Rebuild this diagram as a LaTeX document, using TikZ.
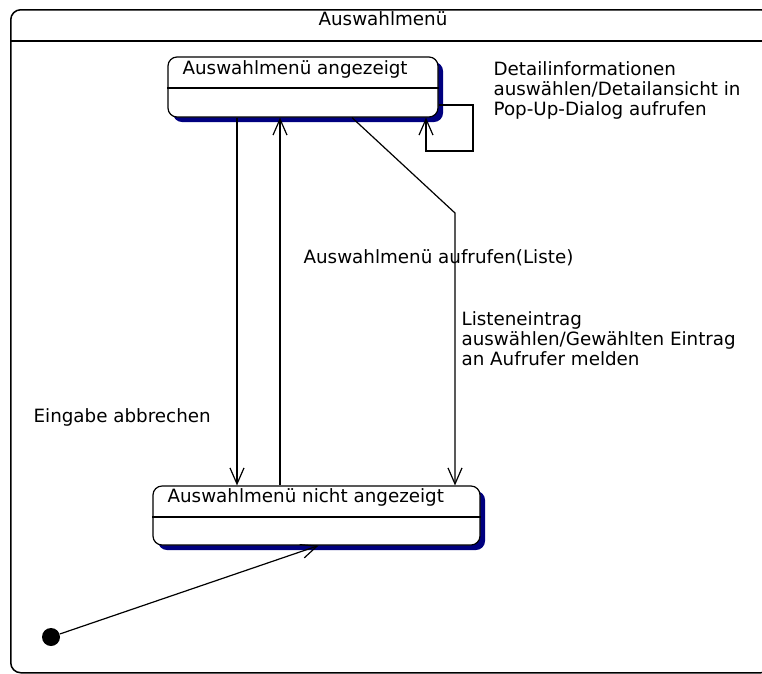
\documentclass[tikz,border=0pt]{standalone}
\usepackage{fontspec}
\setmainfont{DejaVu Sans}
\usetikzlibrary{arrows.meta,shadows}
\definecolor{ShadowNavy}{HTML}{00007F}

\begin{document}
\begin{tikzpicture}[
    x=1pt, y=-1pt,
    font=\fontsize{18.3}{20}\selectfont,
    line width=1.2pt,
    statebox/.style={draw,rounded corners=9pt,fill=white,inner sep=0pt,
      drop shadow={shadow xshift=5pt,shadow yshift=-5pt,fill=ShadowNavy,opacity=1}},
    lbl/.style={inner sep=0pt,align=left},
    trans/.style={-{Straight Barb[length=16pt,width=14pt]}},
    startdot/.style={circle,fill=black,inner sep=0pt,minimum size=18pt}
  ]
  \useasboundingbox (0,0) rectangle (762,673);

  % composite state with its title bar
  \node[draw,rounded corners=10pt,line width=1.5pt,inner sep=0pt,
    minimum width=760pt,minimum height=663pt,anchor=north west] (menu) at (10,9) {};
  \coordinate (headsep) at (0,41);
  \draw[line width=1.5pt] (menu.west |- headsep) -- (menu.east |- headsep);
  \node[anchor=base,inner sep=0pt] (menutitle) at (383,25) {Auswahlmenü};

  % the two states
  \node[statebox,minimum width=270pt,minimum height=60pt] (shown) at (303,87) {};
  \draw ([yshift=-1pt]shown.west) -- ([yshift=-1pt]shown.east);
  \node[lbl,anchor=base west] (shownname) at (182,74) {Auswahlmenü angezeigt};

  \node[statebox,minimum width=327pt,minimum height=59pt] (hidden) at (316.5,515.5) {};
  \draw ([yshift=-1.5pt]hidden.west) -- ([yshift=-1.5pt]hidden.east);
  \node[lbl,anchor=base west] (hiddenname) at (167,502) {Auswahlmenü nicht angezeigt};

  \node[startdot] (start) at (51,637) {};

  % where the transitions run
  \coordinate (closex) at (237,0);
  \coordinate (openx) at (280,0);
  \coordinate (pickfrom) at (352,0);
  \coordinate (pickbend) at (455,213);
  \coordinate (loopa) at (473,105);
  \coordinate (loopb) at (473,151);
  \coordinate (loopx) at (426,0);

  \draw[trans] (shown.south -| closex) -- (hidden.north -| closex);
  \draw[trans] (hidden.north -| openx) -- (shown.south -| openx);
  \draw[trans] (shown.south -| pickfrom) -- (pickbend) -- (hidden.north -| pickbend);
  \draw[trans] (shown.east |- loopa) -- (loopa) -- (loopb) -- (loopb -| loopx) -- (shown.south -| loopx);
  \draw[trans] (start) -- ([xshift=2pt]hidden.south);

  % transition labels
  \node[lbl,anchor=north west] (detailtxt) at (493,61.3)
    {Detailinformationen\\auswählen/Detailansicht in\\Pop-Up-Dialog aufrufen};
  \node[lbl,anchor=base west] (opentxt) at (303,263) {Auswahlmenü aufrufen(Liste)};
  \node[lbl,anchor=north west] (picktxt) at (461,311.3)
    {Listeneintrag\\auswählen/Gewählten Eintrag\\an Aufrufer melden};
  \node[lbl,anchor=base west] (canceltxt) at (33,422) {Eingabe abbrechen};
\end{tikzpicture}
\end{document}
